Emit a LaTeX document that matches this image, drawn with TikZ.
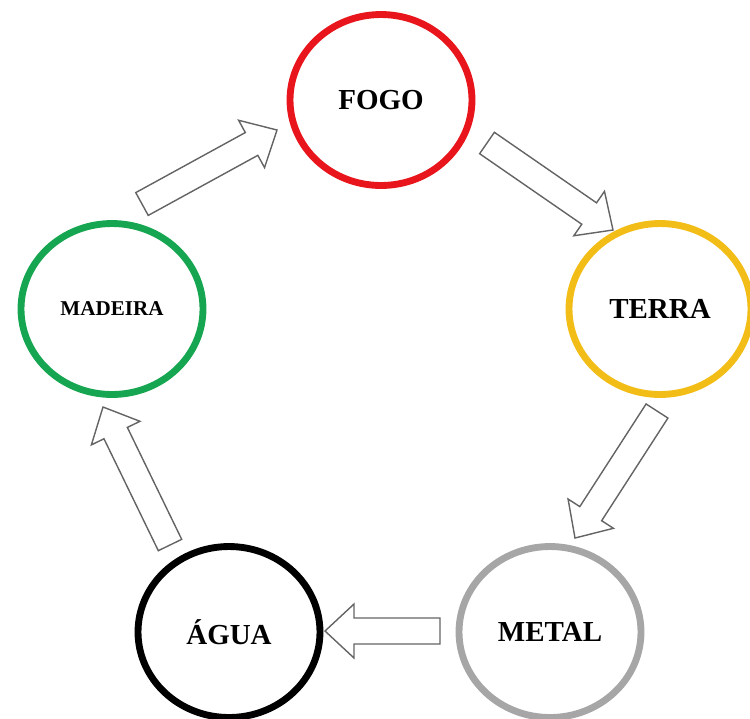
\documentclass[tikz,border=0pt]{standalone}
\usepackage{fontspec}
\setmainfont{Liberation Serif}
\usetikzlibrary{calc,shapes.geometric}

\definecolor{fogored}{RGB}{232,22,28}
\definecolor{terraouro}{RGB}{243,189,24}
\definecolor{metalcinza}{RGB}{166,166,166}
\definecolor{madeiraverde}{RGB}{22,165,80}
\definecolor{setacinza}{RGB}{100,100,100}

\begin{document}
\begin{tikzpicture}[x=0.02cm,y=-0.02cm,
  elemento/.style={ellipse,draw,line width=3.9pt,minimum width=3.64cm,minimum height=3.42cm,inner sep=0pt,text=black,font=\bfseries\fontsize{16.5}{18}\selectfont},
  bloco/.style={draw=setacinza,fill=white,line width=0.8pt,
    to path={($(\tikztostart)!0.26cm!90:(\tikztotarget)$)
      -- ($(\tikztotarget)!0.58cm!(\tikztostart)!0.26cm!90:(\tikztotarget)$)
      -- ($(\tikztotarget)!0.58cm!(\tikztostart)!0.54cm!90:(\tikztotarget)$)
      -- (\tikztotarget)
      -- ($(\tikztotarget)!0.58cm!(\tikztostart)!0.54cm!-90:(\tikztotarget)$)
      -- ($(\tikztotarget)!0.58cm!(\tikztostart)!0.26cm!-90:(\tikztotarget)$)
      -- ($(\tikztostart)!0.26cm!-90:(\tikztotarget)$) -- cycle}}]
\useasboundingbox (0,0) rectangle (750,718);

% os cinco elementos
\node[elemento,draw=fogored] (fogo) at (381,100) {FOGO};
\node[elemento,draw=terraouro] (terra) at (660,309) {TERRA};
\node[elemento,draw=metalcinza] (metal) at (550,632) {METAL};
\node[elemento,draw=black] (agua) at (229,632) {ÁGUA};
\node[elemento,draw=madeiraverde,font=\bfseries\fontsize{12}{14}\selectfont] (madeira) at (112,309) {MADEIRA};

% pontas das setas
\coordinate (s1) at ($(madeira)+(30,-105)$); \coordinate (p1) at ($(fogo)+(-104,30)$);
\coordinate (s2) at ($(fogo)+(106,43)$);     \coordinate (p2) at ($(terra)+(-47,-79)$);
\coordinate (s3) at ($(terra)+(-3,102)$);    \coordinate (p3) at ($(metal)+(25,-94)$);
\coordinate (s4) at ($(metal)+(-110,-1)$);   \coordinate (p4) at ($(agua)+(96,-1)$);
\coordinate (s5) at ($(agua)+(-59,-87)$);    \coordinate (p5) at ($(madeira)+(-9,98)$);

% ciclo
\foreach \i in {1,...,5} {
\draw[bloco] (s\i) to (p\i);
}

\end{tikzpicture}
\end{document}
